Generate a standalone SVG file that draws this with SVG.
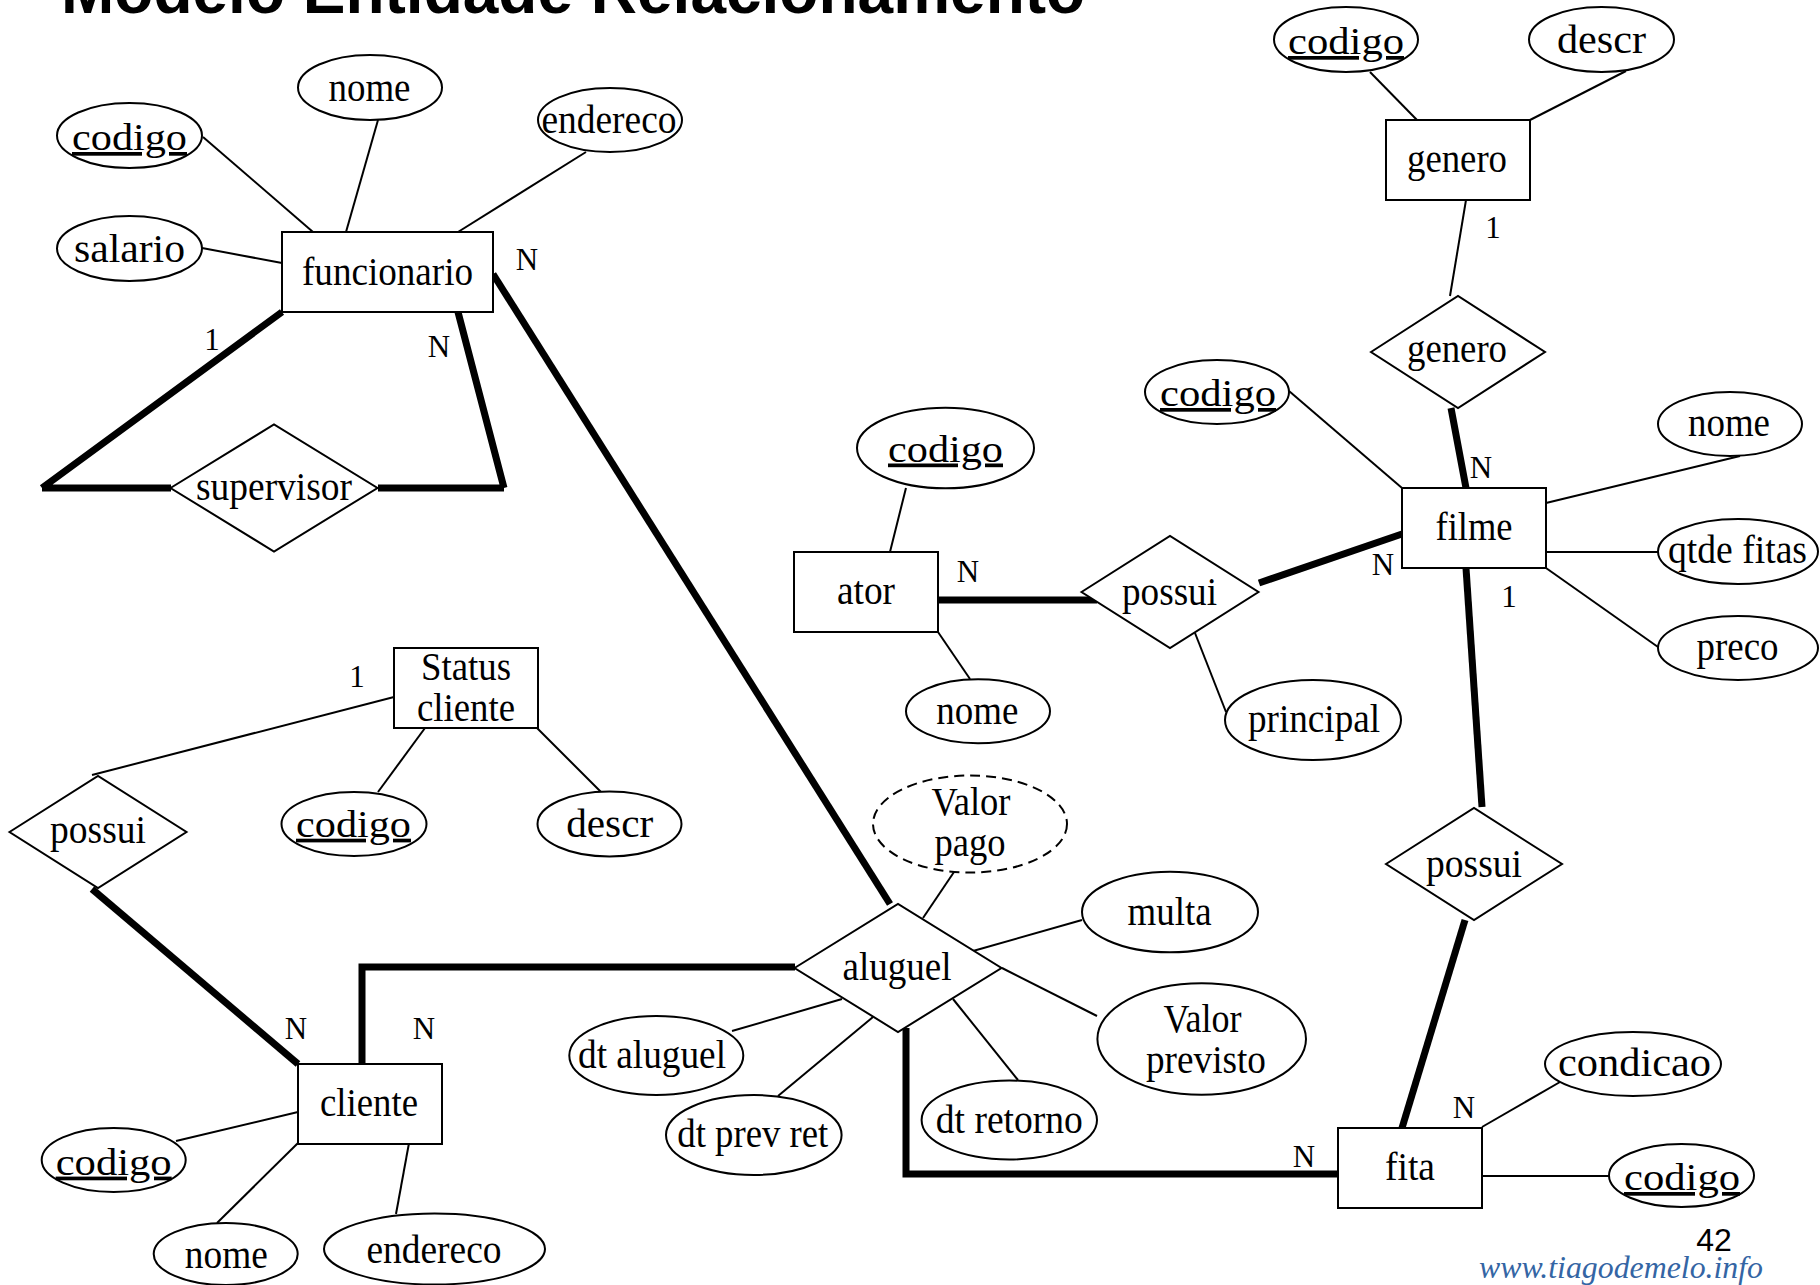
<svg xmlns="http://www.w3.org/2000/svg" width="1820" height="1285" viewBox="0 0 1820 1285">
  <style>
    .ent, .rel, .att { fill: #fff; stroke: #000; stroke-width: 2; }
    .derived { fill: #fff; stroke: #000; stroke-width: 2; stroke-dasharray: 10 6; }
    .thin { stroke: #000; stroke-width: 2; fill: none; }
    .thick { stroke: #000; stroke-width: 7; fill: none; stroke-linejoin: miter; }
    .t { font-family: "Liberation Serif", "Times New Roman", serif; font-size: 40px; text-anchor: middle; fill: #000; }
    .key { font-size: 37px; text-decoration: underline; }
    .card { font-family: "Liberation Serif", "Times New Roman", serif; font-size: 31px; text-anchor: middle; fill: #000; }
    .title { font-family: "Liberation Sans", Arial, sans-serif; font-weight: bold; font-size: 64px; fill: #000; }
    .page { font-family: "Liberation Sans", Arial, sans-serif; font-size: 32px; text-anchor: middle; fill: #000; }
    .url { font-family: "Liberation Serif", "Times New Roman", serif; font-style: italic; font-size: 32px; fill: #3465a4; }
  </style>

  <rect width="1820" height="1285" fill="#fff"/>

  <text class="title" x="61" y="13">Modelo Entidade Relacionamento</text>

  <!-- connectors -->
  <g id="connectors">
    <!-- attribute links -->
    <line class="thin" x1="203" y1="137" x2="313" y2="232"/>
    <line class="thin" x1="378" y1="120" x2="346" y2="232"/>
    <line class="thin" x1="586" y1="152" x2="458" y2="232"/>
    <line class="thin" x1="202" y1="248" x2="282" y2="263"/>
    <line class="thin" x1="1370" y1="72" x2="1417" y2="120"/>
    <line class="thin" x1="1626" y1="71" x2="1530" y2="120"/>
    <line class="thin" x1="1289" y1="391" x2="1402" y2="488"/>
    <line class="thin" x1="1546" y1="503" x2="1740" y2="456"/>
    <line class="thin" x1="1546" y1="552" x2="1658" y2="552"/>
    <line class="thin" x1="1546" y1="568" x2="1658" y2="647"/>
    <line class="thin" x1="906" y1="488" x2="890" y2="552"/>
    <line class="thin" x1="938" y1="632" x2="970" y2="679"/>
    <line class="thin" x1="1195" y1="633" x2="1226" y2="712"/>
    <line class="thin" x1="425" y1="728" x2="378" y2="792"/>
    <line class="thin" x1="537" y1="728" x2="601" y2="792"/>
    <line class="thin" x1="954" y1="872" x2="923" y2="918"/>
    <line class="thin" x1="973" y1="951" x2="1082" y2="920"/>
    <line class="thin" x1="1002" y1="968" x2="1097" y2="1016"/>
    <line class="thin" x1="842" y1="999" x2="732" y2="1031"/>
    <line class="thin" x1="873" y1="1017" x2="778" y2="1096"/>
    <line class="thin" x1="953" y1="999" x2="1018" y2="1080"/>
    <line class="thin" x1="1482" y1="1127" x2="1560" y2="1082"/>
    <line class="thin" x1="1482" y1="1176" x2="1609" y2="1176"/>
    <line class="thin" x1="298" y1="1112" x2="176" y2="1141"/>
    <line class="thin" x1="298" y1="1143" x2="217" y2="1223"/>
    <line class="thin" x1="409" y1="1143" x2="396" y2="1214"/>

    <!-- partial participation links -->
    <line class="thin" x1="1466" y1="200" x2="1450" y2="296"/>
    <line class="thin" x1="394" y1="697" x2="92" y2="775"/>

    <!-- total participation links -->
    <path class="thick" d="M282,312 L42,488 M42,488 L171,488"/>
    <path class="thick" d="M458,312 L504,488 M504,488 L378,488"/>
    <line class="thick" x1="493" y1="274" x2="890" y2="904"/>
    <line class="thick" x1="1451" y1="408" x2="1466" y2="488"/>
    <line class="thick" x1="938" y1="600" x2="1097" y2="600"/>
    <line class="thick" x1="1259" y1="583" x2="1402" y2="534"/>
    <line class="thick" x1="1466" y1="568" x2="1482" y2="807"/>
    <line class="thick" x1="1465" y1="920" x2="1402" y2="1128"/>
    <polyline class="thick" points="906,1028 906,1174 1338,1174"/>
    <polyline class="thick" points="362,1064 362,967 795,967"/>
    <line class="thick" x1="92" y1="889" x2="298" y2="1064"/>

    <!-- cardinalities -->
    <text class="card" x="527" y="270">N</text>
    <text class="card" x="212" y="350">1</text>
    <text class="card" x="439" y="357">N</text>
    <text class="card" x="1493" y="238">1</text>
    <text class="card" x="1481" y="478">N</text>
    <text class="card" x="968" y="582">N</text>
    <text class="card" x="1383" y="575">N</text>
    <text class="card" x="1509" y="607">1</text>
    <text class="card" x="1464" y="1118">N</text>
    <text class="card" x="1304" y="1167">N</text>
    <text class="card" x="357" y="687">1</text>
    <text class="card" x="296" y="1039">N</text>
    <text class="card" x="424" y="1039">N</text>
  </g>

  <!-- entities -->
  <g id="funcionario">
    <rect class="ent" x="282" y="232" width="211" height="80"/>
    <text class="t" x="387.5" y="285" textLength="171" lengthAdjust="spacingAndGlyphs">funcionario</text>
  </g>
  <g id="genero">
    <rect class="ent" x="1386" y="120" width="144" height="80"/>
    <text class="t" x="1457" y="172" textLength="100" lengthAdjust="spacingAndGlyphs">genero</text>
  </g>
  <g id="filme">
    <rect class="ent" x="1402" y="488" width="144" height="80"/>
    <text class="t" x="1474" y="540" textLength="77" lengthAdjust="spacingAndGlyphs">filme</text>
  </g>
  <g id="ator">
    <rect class="ent" x="794" y="552" width="144" height="80"/>
    <text class="t" x="866" y="604" textLength="58" lengthAdjust="spacingAndGlyphs">ator</text>
  </g>
  <g id="status-cliente">
    <rect class="ent" x="394" y="648" width="144" height="80"/>
    <text class="t" x="466" y="680" textLength="90" lengthAdjust="spacingAndGlyphs">Status</text>
    <text class="t" x="466" y="721" textLength="98" lengthAdjust="spacingAndGlyphs">cliente</text>
  </g>
  <g id="cliente">
    <rect class="ent" x="298" y="1064" width="144" height="80"/>
    <text class="t" x="369" y="1116" textLength="98" lengthAdjust="spacingAndGlyphs">cliente</text>
  </g>
  <g id="fita">
    <rect class="ent" x="1338" y="1128" width="144" height="80"/>
    <text class="t" x="1410" y="1180" textLength="50" lengthAdjust="spacingAndGlyphs">fita</text>
  </g>

  <!-- relationships -->
  <g id="rel-supervisor">
    <polygon class="rel" points="170.5,488 274,424.5 377.5,488 274,551.5"/>
    <text class="t" x="274" y="500" textLength="156" lengthAdjust="spacingAndGlyphs">supervisor</text>
  </g>
  <g id="rel-genero">
    <polygon class="rel" points="1371,352 1458,296 1545,352 1458,408"/>
    <text class="t" x="1457" y="362" textLength="100" lengthAdjust="spacingAndGlyphs">genero</text>
  </g>
  <g id="rel-possui-ator">
    <polygon class="rel" points="1081.5,592 1170,536 1258.5,592 1170,648"/>
    <text class="t" x="1169.5" y="605" textLength="95" lengthAdjust="spacingAndGlyphs">possui</text>
  </g>
  <g id="rel-possui-fita">
    <polygon class="rel" points="1386,864 1474,808 1562,864 1474,920"/>
    <text class="t" x="1474" y="877" textLength="96" lengthAdjust="spacingAndGlyphs">possui</text>
  </g>
  <g id="rel-possui-status">
    <polygon class="rel" points="9.5,832 98,776 186.5,832 98,888"/>
    <text class="t" x="98" y="843" textLength="96" lengthAdjust="spacingAndGlyphs">possui</text>
  </g>
  <g id="rel-aluguel">
    <polygon class="rel" points="794.5,968 898,904 1001.5,968 898,1032"/>
    <text class="t" x="897" y="980" textLength="109" lengthAdjust="spacingAndGlyphs">aluguel</text>
  </g>

  <!-- attributes of funcionario -->
  <g id="funcionario-codigo">
    <ellipse class="att" cx="129.5" cy="135.5" rx="72.5" ry="32.5"/>
    <text class="t key" x="129.5" y="150" textLength="115" lengthAdjust="spacingAndGlyphs">codigo</text>
  </g>
  <g id="funcionario-nome">
    <ellipse class="att" cx="370" cy="87.5" rx="72" ry="32.5"/>
    <text class="t" x="369.5" y="101" textLength="82" lengthAdjust="spacingAndGlyphs">nome</text>
  </g>
  <g id="funcionario-endereco">
    <ellipse class="att" cx="610" cy="120" rx="72" ry="32"/>
    <text class="t" x="609" y="133" textLength="135" lengthAdjust="spacingAndGlyphs">endereco</text>
  </g>
  <g id="funcionario-salario">
    <ellipse class="att" cx="129.5" cy="248.5" rx="72.5" ry="32.5"/>
    <text class="t" x="129.5" y="262" font-size="42" textLength="111" lengthAdjust="spacingAndGlyphs">salario</text>
  </g>

  <!-- attributes of genero -->
  <g id="genero-codigo">
    <ellipse class="att" cx="1346" cy="39.5" rx="72" ry="32.5"/>
    <text class="t key" x="1346" y="54" textLength="116" lengthAdjust="spacingAndGlyphs">codigo</text>
  </g>
  <g id="genero-descr">
    <ellipse class="att" cx="1601.5" cy="39.5" rx="72.5" ry="32.5"/>
    <text class="t" x="1601.5" y="53" font-size="42" textLength="89" lengthAdjust="spacingAndGlyphs">descr</text>
  </g>

  <!-- attributes of filme -->
  <g id="filme-codigo">
    <ellipse class="att" cx="1217" cy="392" rx="72" ry="32"/>
    <text class="t key" x="1218" y="406" textLength="116" lengthAdjust="spacingAndGlyphs">codigo</text>
  </g>
  <g id="filme-nome">
    <ellipse class="att" cx="1730" cy="424" rx="72" ry="32"/>
    <text class="t" x="1729" y="436" textLength="82" lengthAdjust="spacingAndGlyphs">nome</text>
  </g>
  <g id="filme-qtde-fitas">
    <ellipse class="att" cx="1738" cy="551.5" rx="80" ry="32.5"/>
    <text class="t" x="1737.5" y="563" textLength="139" lengthAdjust="spacingAndGlyphs">qtde fitas</text>
  </g>
  <g id="filme-preco">
    <ellipse class="att" cx="1738" cy="648" rx="80" ry="32"/>
    <text class="t" x="1737.5" y="660" textLength="82" lengthAdjust="spacingAndGlyphs">preco</text>
  </g>

  <!-- attributes of ator and its relationship -->
  <g id="ator-codigo">
    <ellipse class="att" cx="945.5" cy="448" rx="88.5" ry="40.3"/>
    <text class="t key" x="945.5" y="461.5" textLength="115" lengthAdjust="spacingAndGlyphs">codigo</text>
  </g>
  <g id="ator-nome">
    <ellipse class="att" cx="978" cy="711.3" rx="72" ry="32"/>
    <text class="t" x="977.3" y="724" textLength="82" lengthAdjust="spacingAndGlyphs">nome</text>
  </g>
  <g id="possui-principal">
    <ellipse class="att" cx="1313" cy="720" rx="88" ry="40"/>
    <text class="t" x="1314" y="732" textLength="132" lengthAdjust="spacingAndGlyphs">principal</text>
  </g>

  <!-- attributes of Status cliente -->
  <g id="status-codigo">
    <ellipse class="att" cx="354" cy="824" rx="72.5" ry="32"/>
    <text class="t key" x="353.5" y="836.7" textLength="115" lengthAdjust="spacingAndGlyphs">codigo</text>
  </g>
  <g id="status-descr">
    <ellipse class="att" cx="609.5" cy="824" rx="72" ry="32.5"/>
    <text class="t" x="609.7" y="837" font-size="41" textLength="87" lengthAdjust="spacingAndGlyphs">descr</text>
  </g>

  <!-- attributes of aluguel -->
  <g id="aluguel-valor-pago">
    <ellipse class="derived" cx="970" cy="824" rx="97" ry="48.5"/>
    <text class="t" x="971" y="815" textLength="79" lengthAdjust="spacingAndGlyphs">Valor</text>
    <text class="t" x="970" y="856" textLength="71" lengthAdjust="spacingAndGlyphs">pago</text>
  </g>
  <g id="aluguel-multa">
    <ellipse class="att" cx="1170" cy="912" rx="88" ry="40.3"/>
    <text class="t" x="1169.5" y="925" textLength="84" lengthAdjust="spacingAndGlyphs">multa</text>
  </g>
  <g id="aluguel-valor-previsto">
    <ellipse class="att" cx="1201.7" cy="1039" rx="104.3" ry="55.8"/>
    <text class="t" x="1202.5" y="1031.7" textLength="78" lengthAdjust="spacingAndGlyphs">Valor</text>
    <text class="t" x="1206" y="1072.7" textLength="120" lengthAdjust="spacingAndGlyphs">previsto</text>
  </g>
  <g id="aluguel-dt-aluguel">
    <ellipse class="att" cx="656.3" cy="1055.5" rx="87" ry="39.5"/>
    <text class="t" x="652" y="1068.3" textLength="148" lengthAdjust="spacingAndGlyphs">dt aluguel</text>
  </g>
  <g id="aluguel-dt-prev-ret">
    <ellipse class="att" cx="753.8" cy="1135" rx="87.8" ry="40"/>
    <text class="t" x="752.8" y="1146.7" textLength="151" lengthAdjust="spacingAndGlyphs">dt prev ret</text>
  </g>
  <g id="aluguel-dt-retorno">
    <ellipse class="att" cx="1009.3" cy="1120" rx="87.7" ry="39.5"/>
    <text class="t" x="1009.3" y="1132.7" textLength="147" lengthAdjust="spacingAndGlyphs">dt retorno</text>
  </g>

  <!-- attributes of fita -->
  <g id="fita-condicao">
    <ellipse class="att" cx="1633" cy="1064" rx="88" ry="32"/>
    <text class="t" x="1634.5" y="1076" font-size="42" textLength="153" lengthAdjust="spacingAndGlyphs">condicao</text>
  </g>
  <g id="fita-codigo">
    <ellipse class="att" cx="1681.5" cy="1175.5" rx="72.5" ry="31.5"/>
    <text class="t key" x="1682" y="1190" textLength="116" lengthAdjust="spacingAndGlyphs">codigo</text>
  </g>

  <!-- attributes of cliente -->
  <g id="cliente-codigo">
    <ellipse class="att" cx="113.7" cy="1160" rx="72" ry="32"/>
    <text class="t key" x="113.7" y="1174.6" textLength="116" lengthAdjust="spacingAndGlyphs">codigo</text>
  </g>
  <g id="cliente-nome">
    <ellipse class="att" cx="225.7" cy="1254" rx="72" ry="31"/>
    <text class="t" x="226.3" y="1268" textLength="83" lengthAdjust="spacingAndGlyphs">nome</text>
  </g>
  <g id="cliente-endereco">
    <ellipse class="att" cx="434.5" cy="1249" rx="110.5" ry="35.5"/>
    <text class="t" x="434" y="1263" textLength="135" lengthAdjust="spacingAndGlyphs">endereco</text>
  </g>

  <!-- footer -->
  <text class="page" x="1714" y="1251">42</text>
  <text class="url" x="1479" y="1278" textLength="284" lengthAdjust="spacingAndGlyphs">www.tiagodemelo.info</text>
</svg>
